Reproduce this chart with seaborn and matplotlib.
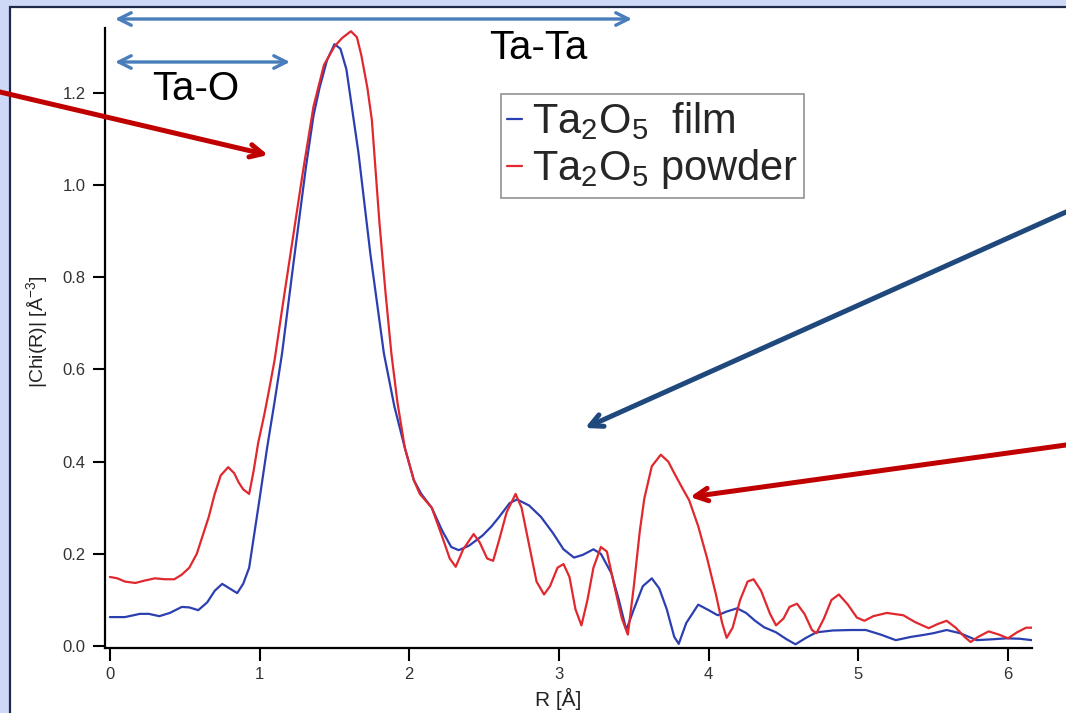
import pandas as pd
import seaborn as sns
import matplotlib.pyplot as plt
from matplotlib.patches import Rectangle


# |Chi(R)|, film (blue) and powder (red)
r_film = [0.00, 0.10, 0.20, 0.26, 0.33, 0.40, 0.48, 0.53, 0.59, 0.65, 0.70, 0.75, 0.80, 0.85,
          0.89, 0.93, 1.00, 1.05, 1.10, 1.15, 1.23, 1.31, 1.36, 1.40, 1.45, 1.50, 1.54, 1.58,
          1.66, 1.74, 1.83, 1.90, 1.97, 2.03, 2.08, 2.15, 2.22, 2.28, 2.33, 2.40, 2.49, 2.55,
          2.60, 2.67, 2.72, 2.80, 2.88, 2.96, 3.03, 3.10, 3.16, 3.23, 3.28, 3.35, 3.40, 3.45,
          3.50, 3.56, 3.62, 3.67, 3.72, 3.77, 3.80, 3.85, 3.93, 4.00, 4.06, 4.12, 4.19, 4.25,
          4.31, 4.37, 4.45, 4.52, 4.58, 4.65, 4.72, 4.83, 4.95, 5.05, 5.15, 5.25, 5.35, 5.43,
          5.50, 5.59, 5.68, 5.79, 5.90, 5.99, 6.08, 6.16]
chi_film = [0.063, 0.063, 0.070, 0.070, 0.065, 0.072, 0.085, 0.084, 0.078, 0.095, 0.120, 0.135,
            0.125, 0.115, 0.135, 0.170, 0.320, 0.430, 0.530, 0.635, 0.840, 1.040, 1.150, 1.210,
            1.270, 1.305, 1.295, 1.250, 1.070, 0.850, 0.635, 0.520, 0.430, 0.360, 0.330, 0.300,
            0.250, 0.215, 0.208, 0.218, 0.240, 0.260, 0.280, 0.310, 0.318, 0.305, 0.280, 0.245,
            0.210, 0.192, 0.198, 0.210, 0.200, 0.158, 0.100, 0.035, 0.080, 0.130, 0.147, 0.125,
            0.080, 0.020, 0.005, 0.050, 0.090, 0.078, 0.067, 0.075, 0.082, 0.072, 0.055, 0.041,
            0.030, 0.015, 0.004, 0.018, 0.030, 0.034, 0.035, 0.035, 0.025, 0.013, 0.020, 0.024,
            0.028, 0.035, 0.028, 0.013, 0.015, 0.017, 0.016, 0.013]

r_powder = [0.00, 0.05, 0.10, 0.17, 0.23, 0.30, 0.37, 0.43, 0.48, 0.53, 0.58, 0.61, 0.66, 0.70,
            0.74, 0.79, 0.83, 0.86, 0.89, 0.93, 0.96, 0.99, 1.03, 1.06, 1.10, 1.15, 1.22, 1.29,
            1.36, 1.43, 1.50, 1.55, 1.61, 1.65, 1.68, 1.72, 1.75, 1.80, 1.84, 1.88, 1.92, 1.97,
            2.03, 2.07, 2.15, 2.22, 2.27, 2.31, 2.36, 2.43, 2.47, 2.52, 2.56, 2.60, 2.65, 2.71,
            2.75, 2.80, 2.85, 2.90, 2.94, 2.99, 3.03, 3.07, 3.11, 3.15, 3.19, 3.23, 3.28, 3.32,
            3.37, 3.42, 3.46, 3.50, 3.54, 3.57, 3.62, 3.68, 3.73, 3.77, 3.82, 3.87, 3.93, 3.99,
            4.05, 4.09, 4.12, 4.16, 4.21, 4.26, 4.30, 4.35, 4.41, 4.45, 4.50, 4.54, 4.59, 4.64,
            4.69, 4.72, 4.77, 4.82, 4.87, 4.93, 4.99, 5.04, 5.10, 5.19, 5.30, 5.38, 5.47, 5.53,
            5.59, 5.65, 5.71, 5.75, 5.80, 5.87, 5.94, 6.00, 6.06, 6.12, 6.16]
chi_powder = [0.150, 0.147, 0.140, 0.137, 0.142, 0.147, 0.145, 0.145, 0.155, 0.170, 0.200,
              0.230, 0.280, 0.330, 0.370, 0.388, 0.375, 0.355, 0.340, 0.330, 0.380, 0.440,
              0.500, 0.550, 0.620, 0.730, 0.880, 1.030, 1.170, 1.260, 1.300, 1.318, 1.333,
              1.320, 1.280, 1.210, 1.140, 0.920, 0.770, 0.635, 0.530, 0.430, 0.360, 0.330,
              0.300, 0.237, 0.190, 0.172, 0.210, 0.243, 0.225, 0.190, 0.185, 0.230, 0.290,
              0.330, 0.300, 0.220, 0.140, 0.112, 0.130, 0.170, 0.178, 0.150, 0.080, 0.045,
              0.100, 0.170, 0.215, 0.205, 0.130, 0.060, 0.025, 0.130, 0.250, 0.320, 0.390,
              0.415, 0.400, 0.375, 0.345, 0.316, 0.260, 0.190, 0.110, 0.050, 0.018, 0.040,
              0.100, 0.140, 0.145, 0.120, 0.070, 0.045, 0.060, 0.085, 0.092, 0.070, 0.035,
              0.028, 0.060, 0.100, 0.112, 0.090, 0.062, 0.055, 0.065, 0.072, 0.067, 0.052,
              0.039, 0.048, 0.055, 0.040, 0.020, 0.009, 0.020, 0.032, 0.025, 0.017, 0.030,
              0.040, 0.040]

film_label = 'Ta$_\\mathregular{2}$O$_\\mathregular{5}$  film'
powder_label = 'Ta$_\\mathregular{2}$O$_\\mathregular{5}$ powder'

sns.set_style('ticks')
plt.rcParams['font.family'] = ['Liberation Sans', 'DejaVu Sans']

W, H = 1066, 713
fig = plt.figure(figsize=(W / 100, H / 100), dpi=100, facecolor='#cdd9f6')
fig.add_artist(Rectangle((10 / W, -0.05), 1.1, 1.05 - 7 / H, transform=fig.transFigure,
                         facecolor='white', edgecolor='#1f2a48', lw=1.6, zorder=0))
ax = fig.add_axes([105 / W, 1 - 648 / H, 927 / W, 620 / H])
ax.set_facecolor('none')

df_film = pd.DataFrame({'R': r_film, 'chi': chi_film})
df_powder = pd.DataFrame({'R': r_powder, 'chi': chi_powder})
sns.lineplot(data=df_film, x='R', y='chi', ax=ax, color='#2b3fb0', lw=1.6, label=film_label)
sns.lineplot(data=df_powder, x='R', y='chi', ax=ax, color='#e0282e', lw=1.6, label=powder_label)

ax.set_xlim(-0.033, 6.16)
ax.set_ylim(-0.004, 1.34)
ax.set_xticks(range(0, 7))
ax.set_yticks([0.0, 0.2, 0.4, 0.6, 0.8, 1.0, 1.2])
ax.set_yticklabels(['0.0', '0.2', '0.4', '0.6', '0.8', '1.0', '1.2'])
ax.tick_params(direction='out', length=9, width=1.5, color='black', labelsize=12,
               labelcolor='#333333', pad=5)
sns.despine(ax=ax)
for s in ['left', 'bottom']:
    ax.spines[s].set_linewidth(1.6)
    ax.spines[s].set_color('black')

ax.set_xlabel('R [Å]', fontsize=15, color='#222222')
ax.set_ylabel('|Chi(R)| [Å$^{\\mathregular{-3}}$]', fontsize=14, color='#222222')
ax.xaxis.set_label_coords(0.489, -0.064)
ax.yaxis.set_label_coords(-0.058, 0.51)

leg = ax.legend(loc='upper left', bbox_to_anchor=(0.427, 0.893), fontsize=30, frameon=True,
                fancybox=False, edgecolor='#777777', handlelength=0.35, handletextpad=0.25,
                borderpad=0.15, labelspacing=0.12, borderaxespad=0)
leg.get_frame().set_linewidth(1.2)
for line in leg.get_lines():
    line.set_linewidth(1.6)


def fpos(px, py):
    return px / W, 1 - py / H


def arrow(p0, p1, style, color, lw):
    ax.annotate('', xy=fpos(*p1), xytext=fpos(*p0), xycoords='figure fraction',
                textcoords='figure fraction', annotation_clip=False,
                arrowprops=dict(arrowstyle=style, color=color, lw=lw, shrinkA=0, shrinkB=0))


arrow((115, 19), (632, 19), '<->,head_length=0.9,head_width=0.45', '#4a7ebb', 2.4)
arrow((115, 62), (290, 62), '<->,head_length=0.9,head_width=0.45', '#4a7ebb', 2.4)
arrow((0, 92), (268, 155), '->,head_length=0.9,head_width=0.45', '#c00000', 3.6)
arrow((1066, 212), (585, 428), '->,head_length=0.9,head_width=0.45', '#1f497d', 3.6)
arrow((1066, 445), (690, 497), '->,head_length=0.9,head_width=0.45', '#c00000', 3.6)

fig.text(*fpos(538, 48), 'Ta-Ta', fontsize=29, ha='center', va='center', color='black')
fig.text(*fpos(196, 89), 'Ta-O', fontsize=29, ha='center', va='center', color='black')

fig.savefig('out.png', dpi=100, facecolor=fig.get_facecolor())
